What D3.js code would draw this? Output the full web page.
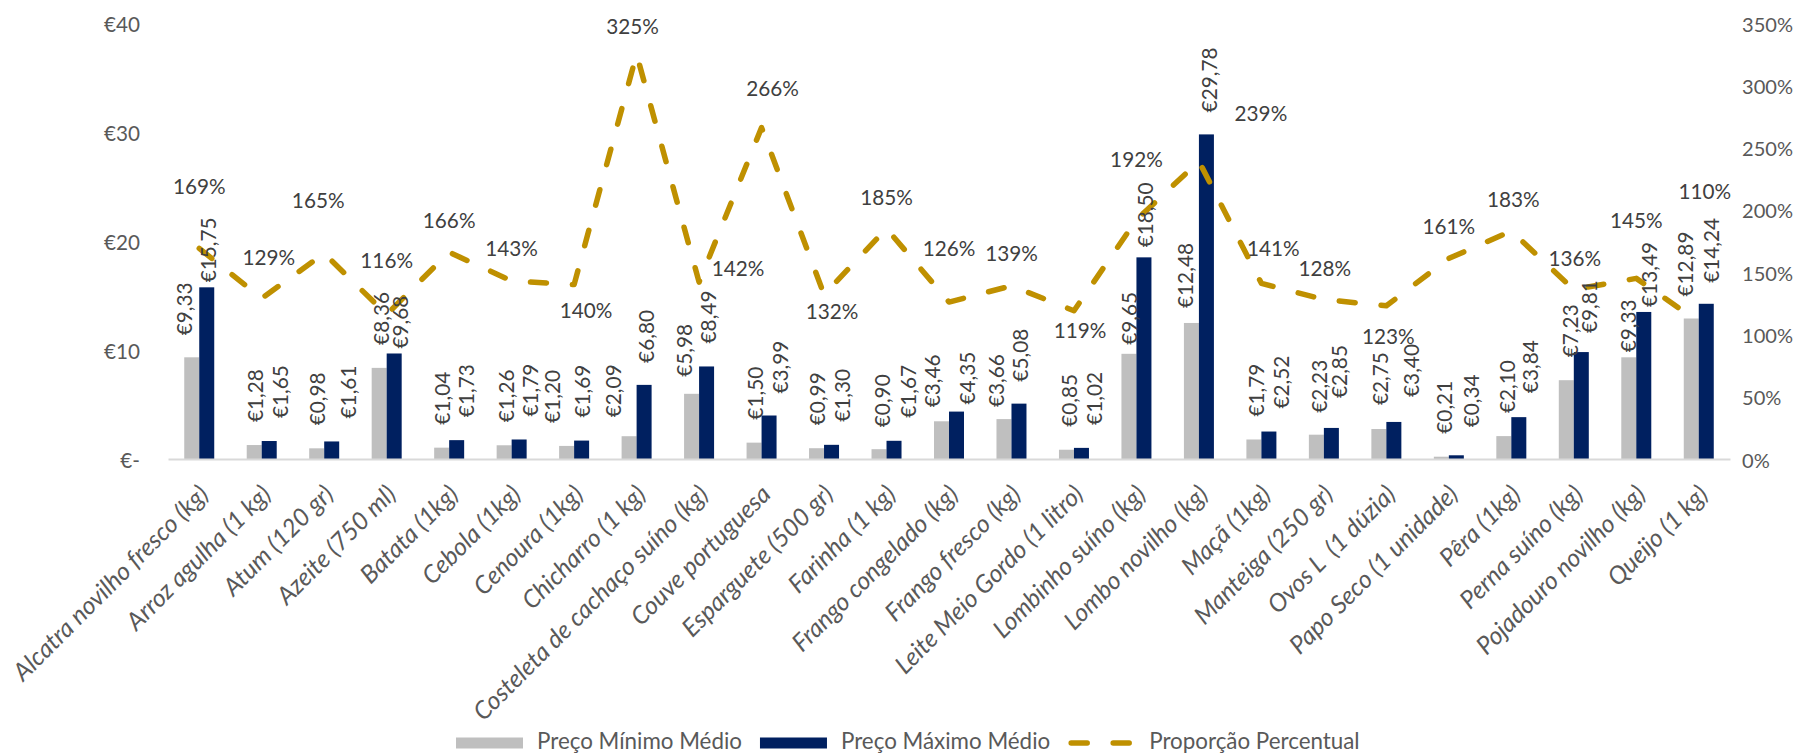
<!DOCTYPE html>
<html><head><meta charset="utf-8">
<script src="https://cdn.jsdelivr.net/npm/d3@7"></script>
<style>html,body{margin:0;padding:0;background:#fff;} svg{display:block;} text{white-space:pre;}</style>
</head><body><svg id="chart" width="1811" height="753"></svg>
<script>
// ---------------- DATA ----------------
const categories = ["Alcatra novilho fresco (kg)", "Arroz agulha (1 kg)", "Atum (120 gr)", "Azeite (750 ml)", "Batata (1kg)", "Cebola (1kg)", "Cenoura (1kg)", "Chicharro (1 kg)", "Costeleta de cachaço suíno (kg)", "Couve portuguesa", "Esparguete (500 gr)", "Farinha (1 kg)", "Frango congelado (kg)", "Frango fresco (kg)", "Leite Meio Gordo (1 litro)", "Lombinho suíno (kg)", "Lombo novilho (kg)", "Maçã (1kg)", "Manteiga (250 gr)", "Ovos L  (1 dúzia)", "Papo Seco (1 unidade)", "Pêra (1kg)", "Perna suíno (kg)", "Pojadouro novilho (kg)", "Queijo (1 kg)"];
const minPrice = [9.33, 1.28, 0.98, 8.36, 1.04, 1.26, 1.20, 2.09, 5.98, 1.50, 0.99, 0.90, 3.46, 3.66, 0.85, 9.65, 12.48, 1.79, 2.23, 2.75, 0.21, 2.10, 7.23, 9.33, 12.89];
const maxPrice = [15.75, 1.65, 1.61, 9.68, 1.73, 1.79, 1.69, 6.80, 8.49, 3.99, 1.30, 1.67, 4.35, 5.08, 1.02, 18.50, 29.78, 2.52, 2.85, 3.40, 0.34, 3.84, 9.81, 13.49, 14.24];
const proportion = [169, 129, 165, 116, 166, 143, 140, 325, 142, 266, 132, 185, 126, 139, 119, 192, 239, 141, 128, 123, 161, 183, 136, 145, 110];
const leftTicks = [0, 10, 20, 30, 40];
const rightTicks = [0, 50, 100, 150, 200, 250, 300, 350];
const seriesNames = ["Preço Mínimo Médio", "Preço Máximo Médio", "Proporção Percentual"];

// ---------------- LAYOUT (label nudges, px) ----------------
const pctDx = [0, 7, -6, 0, 0, 0, 12, -4, 39, 11, 8, 0, 0, 0, 6, 0, 62, 12, 1, 2, 0, 2, 1, 0, 6];
const pctDy = [-62, -41, -53, -54, -32, -33, 25, -28, -14, -40, 16, -32, -54, -33, 19, -61, -48, -35, -32, 30, -32, -32, -32, -58, -131];
const minGap = [22, 23, 23, 23, 23, 23, 23, 19, 17, 23, 23, 22, 14, 12, 23, 9, 15, 23, 22, 24, 23, 23, 23, 5, 22];
const maxGap = [5, 23, 23, 5, 23, 23, 23, 22, 23, 22, 23, 23, 7, 22, 23, 10, 22, 23, 30, 25, 28, 24, 19, 5, 21];
const minDx = [-8, 0, 0, 1, 0, 1, -15, -17, -8, 0, 0, 2, -10, -8, 2, 0, -7, 2, 2, 1, 2, 3, 3, -1, -7];
const maxDx = [1, 10, 16, 5, 9, 10, 0, 1, 1, 10, 10, 13, 10, 1, 12, 1, 2, 12, 7, 17, 14, 11, 7, 5, 4];

const COLORS = {min: "#BFBFBF", max: "#002060", line: "#BF9000", axisText: "#595959", label: "#404040", axisLine: "#D9D9D9"};
const FONT = "Lato, 'Noto Sans', sans-serif";

const svg = d3.select("#chart");
svg.append("rect").attr("width", 1811).attr("height", 753).attr("fill", "#fff");

function fit(str, target, italic) {
  const t = svg.append("text").attr("font-family", FONT).attr("font-size", 100)
    .attr("font-style", italic ? "italic" : "normal").text(str);
  const w = t.node().getComputedTextLength();
  t.remove();
  return 100 * target / w;
}
const leftSize = fit("€40", 36);
const rightSize = fit("350%", 51);
const euroSize = fit("€29,78", 65);
const pctSize = fit("325%", 52.7);
const catSize = fit("Alcatra novilho fresco (kg)", 264, true);
const legendSize = fit("Preço Mínimo Médio", 205);

const plot = {left: 168, right: 1730, top: 23, bottom: 459};

const x = d3.scaleBand().domain(categories).range([plot.left, plot.right]).padding(0);
const barW = 15;
const xInner = d3.scaleBand().domain(["min", "max"]).range([0, 2 * barW]).padding(0);
const yL = d3.scaleLinear().domain([0, 40]).range([plot.bottom, plot.top]);
const yR = d3.scaleLinear().domain([0, 350]).range([plot.bottom, plot.top]);
const cx = c => x(c) + x.bandwidth() / 2;

const euro = v => "€" + v.toFixed(2).replace(".", ",");

// Bars
const groups = svg.append("g").selectAll("g").data(categories).join("g")
  .attr("transform", c => `translate(${cx(c) - barW},0)`);
groups.append("rect")
  .attr("x", xInner("min")).attr("width", xInner.bandwidth())
  .attr("y", (c, i) => yL(minPrice[i])).attr("height", (c, i) => yL(0) - yL(minPrice[i]))
  .attr("fill", COLORS.min);
groups.append("rect")
  .attr("x", xInner("max")).attr("width", xInner.bandwidth())
  .attr("y", (c, i) => yL(maxPrice[i])).attr("height", (c, i) => yL(0) - yL(maxPrice[i]))
  .attr("fill", COLORS.max);

// Bottom axis
const xAxis = svg.append("g").attr("transform", `translate(0,${plot.bottom})`)
  .call(d3.axisBottom(x).tickSize(0).tickSizeOuter(0));
xAxis.select(".domain").attr("stroke", COLORS.axisLine).attr("stroke-width", 2);
xAxis.selectAll(".tick text")
  .attr("font-family", FONT).attr("font-size", catSize).attr("font-style", "italic")
  .attr("fill", COLORS.axisText)
  .attr("text-anchor", "end").attr("dominant-baseline", "central")
  .attr("x", 0).attr("y", 0).attr("dy", null)
  .attr("transform", "translate(4,30) rotate(-45)");

// Left axis
const yAxisL = svg.append("g").attr("transform", "translate(140,0)")
  .call(d3.axisLeft(yL).tickValues(leftTicks).tickSize(0).tickPadding(0)
    .tickFormat(v => v === 0 ? "€-" : "€" + v));
yAxisL.select(".domain").remove();
yAxisL.selectAll(".tick text").attr("font-family", FONT).attr("font-size", leftSize)
  .attr("fill", COLORS.axisText).attr("dy", null).attr("dominant-baseline", "central");

// Right axis
const yAxisR = svg.append("g").attr("transform", "translate(1742,0)")
  .call(d3.axisRight(yR).tickValues(rightTicks).tickSize(0).tickPadding(0)
    .tickFormat(v => v + "%"));
yAxisR.select(".domain").remove();
yAxisR.selectAll(".tick text").attr("font-family", FONT).attr("font-size", rightSize)
  .attr("fill", COLORS.axisText).attr("dy", null).attr("dominant-baseline", "central");

// Line
const line = d3.line().x((d, i) => cx(categories[i])).y(d => yR(d));
svg.append("path").datum(proportion).attr("d", line)
  .attr("fill", "none").attr("stroke", COLORS.line).attr("stroke-width", 5.5)
  .attr("stroke-dasharray", "16,26").attr("stroke-linecap", "round").attr("stroke-linejoin", "round");

// Bar value labels
const vl = svg.append("g").attr("font-family", FONT).attr("font-size", euroSize).attr("fill", COLORS.label);
categories.forEach((c, i) => {
  const gx = cx(c) - barW + xInner("min") + xInner.bandwidth() / 2 + minDx[i];
  const gy = yL(minPrice[i]) - minGap[i];
  vl.append("text").attr("transform", `translate(${gx},${gy}) rotate(-90)`)
    .attr("text-anchor", "start").attr("dominant-baseline", "central").text(euro(minPrice[i]));
  const nx = cx(c) - barW + xInner("max") + xInner.bandwidth() / 2 + maxDx[i];
  const ny = yL(maxPrice[i]) - maxGap[i];
  vl.append("text").attr("transform", `translate(${nx},${ny}) rotate(-90)`)
    .attr("text-anchor", "start").attr("dominant-baseline", "central").text(euro(maxPrice[i]));
});

// Percent labels
svg.append("g").attr("font-family", FONT).attr("font-size", pctSize).attr("fill", COLORS.label)
  .selectAll("text").data(proportion).join("text")
  .attr("x", (d, i) => cx(categories[i]) + pctDx[i])
  .attr("y", (d, i) => yR(d) + pctDy[i])
  .attr("text-anchor", "middle").attr("dominant-baseline", "central")
  .text(d => d + "%");

// Legend
const leg = svg.append("g").attr("font-family", FONT).attr("font-size", legendSize).attr("fill", COLORS.axisText);
const legY = 743, swW = 67, swGap = 14, itemGap = 18;
let lx = 456;
seriesNames.forEach((name, k) => {
  if (k < 2) {
    leg.append("rect").attr("x", lx).attr("y", legY - 5.5).attr("width", swW).attr("height", 11)
      .attr("fill", k === 0 ? COLORS.min : COLORS.max);
  } else {
    leg.append("line").attr("x1", lx + 3).attr("x2", lx + swW - 3).attr("y1", legY).attr("y2", legY)
      .attr("stroke", COLORS.line).attr("stroke-width", 5.5)
      .attr("stroke-dasharray", "16,26").attr("stroke-linecap", "round");
  }
  const t = leg.append("text").attr("x", lx + swW + swGap).attr("y", legY - 3)
    .attr("dominant-baseline", "central").text(name);
  lx = lx + swW + swGap + t.node().getComputedTextLength() + itemGap;
});
</script>
</body></html>
